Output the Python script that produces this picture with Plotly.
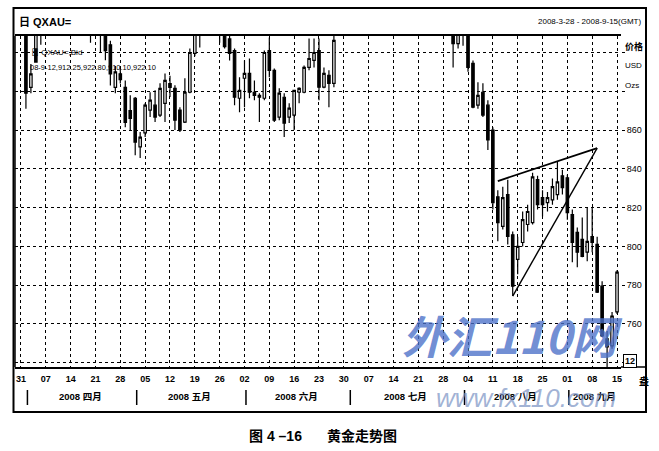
import plotly.graph_objects as go

# ---------------- data ----------------
dates = [
    "2008-03-28", "2008-03-31",
    "2008-04-01", "2008-04-02", "2008-04-03", "2008-04-04", "2008-04-07", "2008-04-08",
    "2008-04-09", "2008-04-10", "2008-04-11", "2008-04-14", "2008-04-15", "2008-04-16",
    "2008-04-17", "2008-04-18", "2008-04-21", "2008-04-22", "2008-04-23", "2008-04-24",
    "2008-04-25", "2008-04-28", "2008-04-29", "2008-04-30",
    "2008-05-01", "2008-05-02", "2008-05-05", "2008-05-06", "2008-05-07", "2008-05-08",
    "2008-05-09", "2008-05-12", "2008-05-13", "2008-05-14", "2008-05-15", "2008-05-16",
    "2008-05-19", "2008-05-20", "2008-05-21", "2008-05-22", "2008-05-23", "2008-05-26",
    "2008-05-27", "2008-05-28", "2008-05-29", "2008-05-30",
    "2008-06-02", "2008-06-03", "2008-06-04", "2008-06-05", "2008-06-06", "2008-06-09",
    "2008-06-10", "2008-06-11", "2008-06-12", "2008-06-13", "2008-06-16", "2008-06-17",
    "2008-06-18", "2008-06-19", "2008-06-20", "2008-06-23", "2008-06-24", "2008-06-25",
    "2008-06-26", "2008-06-27", "2008-06-30",
    "2008-07-01", "2008-07-02", "2008-07-03", "2008-07-04", "2008-07-07", "2008-07-08",
    "2008-07-09", "2008-07-10", "2008-07-11", "2008-07-14", "2008-07-15", "2008-07-16",
    "2008-07-17", "2008-07-18", "2008-07-21", "2008-07-22", "2008-07-23", "2008-07-24",
    "2008-07-25", "2008-07-28", "2008-07-29", "2008-07-30", "2008-07-31",
    "2008-08-01", "2008-08-04", "2008-08-05", "2008-08-06", "2008-08-07", "2008-08-08",
    "2008-08-11", "2008-08-12", "2008-08-13", "2008-08-14", "2008-08-15", "2008-08-18",
    "2008-08-19", "2008-08-20", "2008-08-21", "2008-08-22", "2008-08-25", "2008-08-26",
    "2008-08-27", "2008-08-28", "2008-08-29",
    "2008-09-01", "2008-09-02", "2008-09-03", "2008-09-04", "2008-09-05", "2008-09-08",
    "2008-09-09", "2008-09-10", "2008-09-11", "2008-09-12", "2008-09-15",
]

opens = [
    935, 932,
    916, 882, 895, 910, 915, 925, 920, 930, 925, 922, 932, 935, 945, 940, 912, 915, 912, 904,
    882, 889, 882, 870,
    876.4, 851.3, 858.5, 870.3, 872.8, 867.7, 873.8, 884, 881.5, 870.3, 864.1, 879.5,
    899.5, 910, 920, 930, 925, 925, 915, 907, 901, 876.4,
    886.7, 889.2, 879.5, 877.9, 876.4, 901, 890.8, 866.7, 876.9, 866.7, 867.7, 879.5,
    879.5, 892.3, 895.9, 901, 882.1, 888.2, 884.1, 912, 925,
    930, 942, 946, 935, 932, 922, 925, 935, 945, 962, 970, 980, 965, 955, 958, 962, 938,
    925, 922, 928, 930, 914, 904.6,
    915, 912, 894.4, 872.8, 879.5, 872.8, 860, 825.6, 810.3, 826.7, 806, 793.3, 802,
    811.3, 812.3, 834.4, 825.1, 822.6, 824, 826.7, 836.4,
    835.4, 816.4, 807.2, 803.6, 797, 805.1, 801, 779.5, 752.3, 748.7, 766.2,
]

highs = [
    940, 935,
    918, 894, 915, 920, 928, 930, 935, 935, 930, 935, 940, 950, 955, 942, 920, 918, 914, 906,
    893, 893, 885.6, 878,
    877, 859, 873.8, 879.5, 880.5, 884.1, 889.2, 888, 883.1, 871.8, 886.7, 902,
    918, 925, 935, 935, 932, 928, 918, 909, 902, 887.2,
    895.9, 896.9, 885.6, 879, 901, 907.7, 891.8, 881.5, 879, 873.8, 880.5, 882.1,
    893.3, 907.2, 907.2, 907.2, 892.3, 890.8, 912, 930, 935,
    945, 950, 952, 938, 935, 928, 938, 948, 965, 975, 988, 985, 970, 962, 968, 965, 945,
    930, 932, 935, 932, 918, 920,
    918, 914, 895.9, 884.6, 884.1, 875.4, 861.5, 829, 830.8, 834.4, 807.7, 805, 818,
    821.5, 838, 836.4, 829, 828, 835, 843.6, 839.5,
    837, 819, 809.7, 814.9, 820, 820, 805, 782, 756.4, 766.2, 787.7,
]

lows = [
    925, 912,
    871, 879, 902, 904, 910, 918, 915, 920, 915, 920, 928, 930, 935, 905, 909, 900, 896, 883,
    879, 884, 861.5, 860,
    847, 845.6, 856.4, 866.7, 864.1, 866.7, 864.1, 877, 860, 859, 863.6, 879,
    898, 902.6, 915, 920, 918, 905, 902, 895.9, 872.8, 869.2,
    871.8, 876.4, 875.4, 864.1, 875.4, 887.2, 864.1, 865.1, 856.4, 863.6, 860, 873.8,
    879, 890.8, 892.3, 875.4, 881.5, 871.8, 882.1, 910, 918,
    925, 935, 930, 928, 915, 912, 920, 930, 940, 955, 965, 960, 950, 950, 955, 935, 920,
    915, 918, 922, 912, 892.3, 902,
    903.5, 890, 871.3, 871, 866.7, 849.7, 819, 802.6, 808.7, 801, 774.4, 785.6, 800,
    807.7, 811.3, 819, 815.4, 818, 821.5, 824, 826.7,
    813.8, 791.8, 789.2, 794.4, 792.3, 797, 776, 753.3, 737, 747.2, 765.1,
]

closes = [
    932, 916,
    879, 889, 910, 915, 925, 920, 930, 925, 922, 932, 935, 945, 940, 912, 915, 912, 901, 889,
    890, 886, 864, 866,
    853.8, 856.4, 872.8, 875.4, 866.7, 881.5, 885.6, 882, 865.1, 860, 879.5, 900,
    912, 920, 930, 925, 922, 915, 903, 899.5, 876.9, 880.5,
    889.2, 879.5, 877.9, 876.9, 900, 890.8, 865.1, 879, 863.6, 871.3, 880.5, 881.5,
    892.3, 896.9, 900, 882.1, 889.2, 884.1, 906.2, 925, 930,
    942, 946, 935, 932, 922, 925, 935, 945, 962, 970, 980, 965, 955, 958, 962, 938, 925,
    922, 928, 930, 915, 904.6, 915,
    912, 892.3, 871.8, 877.9, 867.7, 854.9, 822.6, 812.3, 825.1, 805.1, 779.5, 800, 813.8,
    818, 835.9, 821.5, 821.5, 825.1, 830.8, 833.3, 830.3,
    817.4, 802, 797, 794.9, 802.6, 802, 776.4, 753.8, 748.2, 764.1, 786.7,
]

tick_dates = [
    "2008-03-31", "2008-04-07", "2008-04-14", "2008-04-21", "2008-04-28", "2008-05-05",
    "2008-05-12", "2008-05-19", "2008-05-26", "2008-06-02", "2008-06-09", "2008-06-16",
    "2008-06-23", "2008-06-30", "2008-07-07", "2008-07-14", "2008-07-21", "2008-07-28",
    "2008-08-04", "2008-08-11", "2008-08-18", "2008-08-25", "2008-09-01", "2008-09-08",
    "2008-09-15",
]
tick_text = ["31", "07", "14", "21", "28", "05", "12", "19", "26", "02", "09", "16",
             "23", "30", "07", "14", "21", "28", "04", "11", "18", "25", "01", "08", "15"]

price_ticks = [740, 760, 780, 800, 820, 840, 860, 880, 900]
price_labels = ["", "760", "780", "800", "820", "840", "860", "", ""]

month_keys = ["2008-04", "2008-05", "2008-06", "2008-07", "2008-08", "2008-09"]
month_labels = ["2008 四月", "2008 五月", "2008 六月", "2008 七月", "2008 八月", "2008 九月"]

upper_line_dates = ["2008-08-12", "2008-09-09"]
upper_line_prices = [833.7, 850.7]
lower_line_dates = ["2008-08-15", "2008-09-09"]
lower_line_prices = [774.4, 850.7]

# ---------------- layout helpers ----------------
W, H = 659, 451
ML, MR, MT, MB = 15, 38, 36, 84
PW, PH = W - ML - MR, H - MT - MB


def px(x):
    return (x - ML) / PW


def py(y):
    return (H - MB - y) / PH


LAT = "Liberation Sans, Arial, sans-serif"
CJK = "Liberation Sans, Noto Sans CJK SC, sans-serif"

fig = go.Figure()
fig.add_trace(go.Candlestick(
    x=dates, open=opens, high=highs, low=lows, close=closes,
    increasing=dict(line=dict(color="black", width=1.2), fillcolor="white"),
    decreasing=dict(line=dict(color="black", width=1.2), fillcolor="black"),
    hoverinfo="skip",
))
fig.add_trace(go.Scatter(x=upper_line_dates, y=upper_line_prices, mode="lines",
                         line=dict(color="black", width=1.8), hoverinfo="skip"))
fig.add_trace(go.Scatter(x=lower_line_dates, y=lower_line_prices, mode="lines",
                         line=dict(color="black", width=1.4), hoverinfo="skip"))

n = len(dates)
fig.update_layout(
    width=W, height=H,
    margin=dict(l=ML, r=MR, t=MT, b=MB),
    paper_bgcolor="white", plot_bgcolor="white",
    showlegend=False,
    xaxis=dict(
        type="category", range=[-0.2, n - 0.2],
        categoryorder="array", categoryarray=dates,
        tickmode="array", tickvals=tick_dates, ticktext=tick_text,
        showgrid=True, gridcolor="black", griddash="dot", gridwidth=1,
        showline=True, linecolor="black", linewidth=1.5, mirror=True,
        ticks="", ticklabelstandoff=2,
        tickfont=dict(family=LAT, size=9, color="black", weight="bold"),
        rangeslider=dict(visible=False), fixedrange=True,
    ),
    yaxis=dict(
        side="right", range=[737.8, 908.5],
        tickmode="array", tickvals=price_ticks, ticktext=price_labels,
        showgrid=True, gridcolor="black", griddash="dot", gridwidth=1,
        zeroline=False, showline=False,
        ticks="outside", ticklen=3, tickcolor="black",
        tickfont=dict(family=LAT, size=9, color="black"),
        fixedrange=True,
    ),
)

shapes = []
# outer frame
shapes.append(dict(type="rect", xref="paper", yref="paper",
                   x0=px(13.5), x1=px(646), y0=py(412), y1=py(8),
                   line=dict(color="black", width=2), fillcolor="rgba(0,0,0,0)"))
# left border of plot
shapes.append(dict(type="line", xref="paper", yref="paper",
                   x0=0, x1=0, y0=0, y1=1, line=dict(color="black", width=1.5)))
# bottom line extended under the price labels
shapes.append(dict(type="line", xref="paper", yref="paper",
                   x0=1, x1=px(646), y0=0, y1=0, line=dict(color="black", width=1.5)))

annotations = []
# month separators and labels derived from the dates
for key, label in zip(month_keys, month_labels):
    idx = [i for i, d in enumerate(dates) if d.startswith(key)]
    first, last = idx[0], idx[-1]
    shapes.append(dict(type="line", xref="x", yref="paper",
                       x0=first + 0.3, x1=first + 0.3, y0=py(405), y1=py(390),
                       line=dict(color="black", width=1.5)))
    annotations.append(dict(xref="x", yref="paper", x=(first + last) / 2 + 0.5, y=py(397),
                            text=label, showarrow=False, xanchor="center", yanchor="middle",
                            font=dict(family=CJK, size=9.5, color="black", weight="bold")))


def txt(x, y, s, size=9, anchor="left", family=LAT, weight="normal", color="black", **kw):
    annotations.append(dict(xref="paper", yref="paper", x=px(x), y=py(y), text=s,
                            showarrow=False, xanchor=anchor, yanchor="middle",
                            font=dict(family=family, size=size, color=color, weight=weight), **kw))


txt(17, 22, "日 QXAU=", size=11, family=CJK, weight="bold")
txt(643, 22, "2008-3-28 - 2008-9-15(GMT)", size=8, anchor="right")
txt(29, 52, "日 QXAU=,Bid", size=8, family=CJK)
txt(28, 68, "08-9-12,912.25,922.80,910.10,922.10", size=7.5)
txt(623, 47, "价格", size=9, family=CJK, weight="bold")
txt(623, 65, "USD", size=8)
txt(623, 85, "Ozs", size=8)
txt(644, 381, "盎", size=10, anchor="center", family=CJK, weight="bold")
annotations.append(dict(xref="paper", yref="paper", x=px(630), y=py(361), text="12",
                        showarrow=False, xanchor="center", yanchor="middle",
                        bordercolor="black", borderwidth=1, borderpad=1, bgcolor="white",
                        font=dict(family=LAT, size=9, color="black", weight="bold")))
# caption
txt(275, 436, "图 4 –16", size=14, anchor="center", family=CJK, weight="bold")
txt(362, 436, "黄金走势图", size=14, anchor="center", family=CJK, weight="bold")
# watermark
txt(512, 334, "<i><b>外汇110网</b></i>", size=45, anchor="center",
    family="Noto Sans CJK SC, sans-serif", weight="bold", color="rgba(75,112,200,0.8)")
txt(526, 398, "<i>www.fx110.com</i>", size=26, anchor="center",
    color="rgba(120,145,195,0.7)")

fig.update_layout(shapes=shapes, annotations=annotations)
fig.write_html("out.html", config={"displayModeBar": False},
               post_script="document.body.style.margin='0';document.body.style.padding='0';")
